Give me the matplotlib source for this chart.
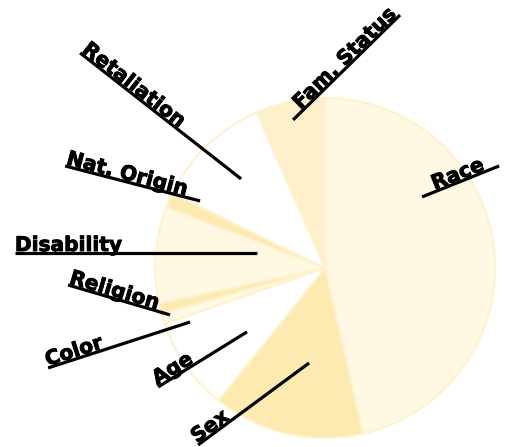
import numpy as np
import matplotlib.pyplot as plt
import matplotlib.patheffects as pe

# Complaint share by basis (percent), clockwise from 12 o'clock
bases = ["Race", "Sex", "Age", "Color", "Religion", "Disability",
         "Nat. Origin", "Retaliation", "Fam. Status"]
shares = [46.5, 14.4, 8.9, 1.0, 1.0, 9.2, 1.4, 11.2, 6.6]

slice_colors = ["#FFF8E2", "#FDEAB1", "#FFFFFF", "#FFF8E2", "#FDEAB1",
                "#FFF8E2", "#FDEAB1", "#FFFFFF", "#FEF0CA"]

# leader lines (in pie-radius units): inner end, outer end
leader_inner = [(0.571, 0.418), (-0.094, -0.559), (-0.459, -0.376), (-0.794, -0.318),
                (-0.912, -0.276), (-0.400, 0.088), (-0.735, 0.394), (-0.494, 0.524),
                (-0.188, 0.871)]
leader_outer = [(1.024, 0.600), (-0.747, -1.041), (-0.982, -0.700), (-1.629, -0.588),
                (-1.512, -0.100), (-1.824, 0.088), (-1.529, 0.600), (-1.441, 1.265),
                (0.441, 1.488)]
# distance (px) of the text end from the outer end of its leader
text_pad = [14, 0, 0, 0, 0, 0, 0, 0, 2]

fig = plt.figure(figsize=(5.09, 4.47), dpi=100)
ax = fig.add_axes([0, 0, 1, 1])

ax.pie(shares, colors=slice_colors, startangle=90, counterclock=False, radius=1,
       wedgeprops=dict(edgecolor="#FEF2CF", linewidth=1.5))

px = 1 / 170.0
for name, p0, p1, pad in zip(bases, leader_inner, leader_outer, text_pad):
    p0 = np.array(p0)
    p1 = np.array(p1)
    ax.plot([p0[0], p1[0]], [p0[1], p1[1]], color="black", lw=2.3,
            solid_capstyle="butt", zorder=3)
    right_side = p1[0] > p0[0]
    if right_side:
        d = (p1 - p0) / np.linalg.norm(p1 - p0)
        ha = "right"
        anchor = p1 - d * pad * px
    else:
        d = (p0 - p1) / np.linalg.norm(p0 - p1)
        ha = "left"
        anchor = p1 + d * pad * px
    normal = np.array([-d[1], d[0]])
    anchor = anchor + normal * 2 * px
    ang = np.degrees(np.arctan2(d[1], d[0]))
    ax.text(anchor[0], anchor[1], name, rotation=ang, rotation_mode="anchor",
            ha=ha, va="baseline", fontsize=14.5, fontweight="bold",
            family="DejaVu Sans", color="black", zorder=4,
            path_effects=[pe.withStroke(linewidth=0.7, foreground="black")])

ax.set_xlim(-1.912, 1.082)
ax.set_ylim(-1.053, 1.576)
ax.set_aspect("equal")
ax.axis("off")

fig.savefig("out.png", dpi=100)
